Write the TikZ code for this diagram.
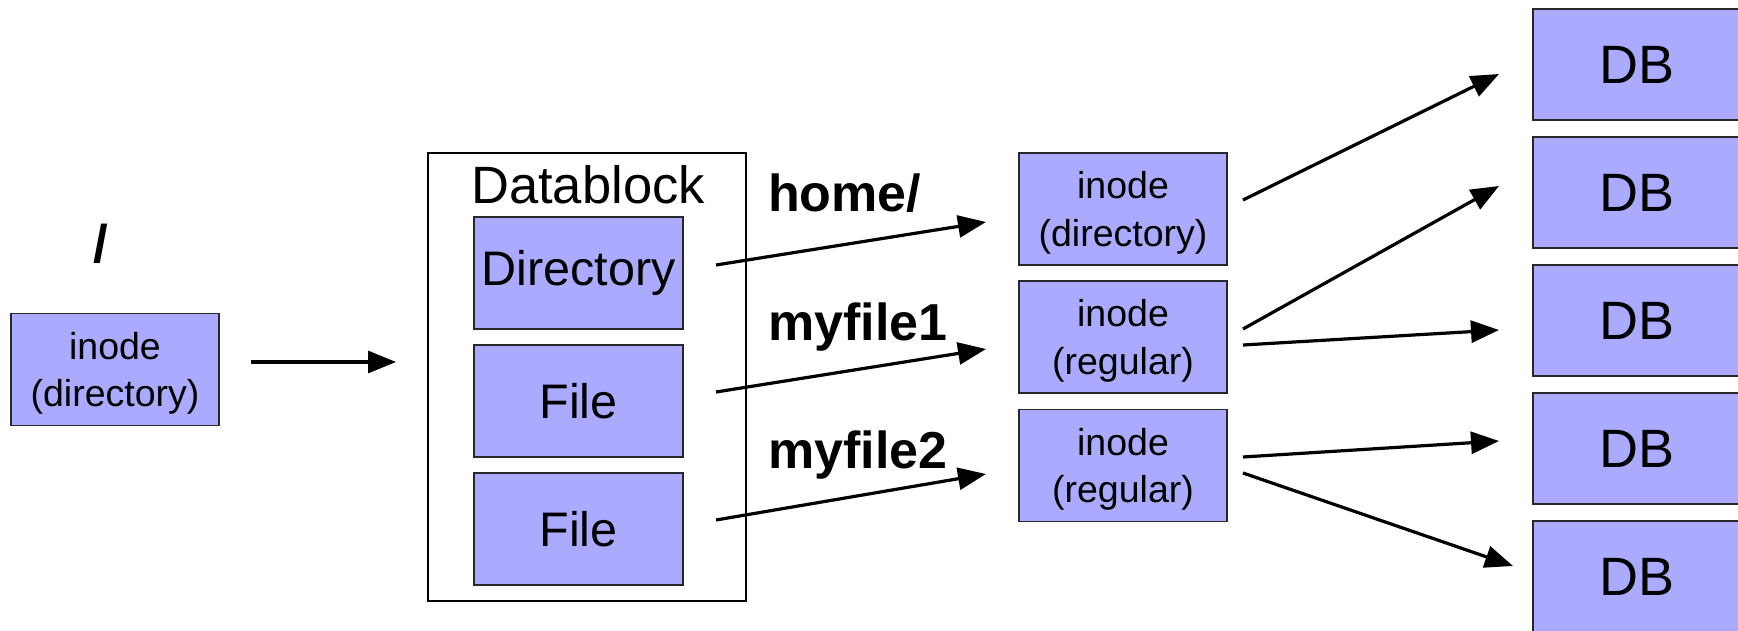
\documentclass[tikz,border=0pt]{standalone}
\usepackage{fontspec}
\setmainfont{Liberation Sans}
\usetikzlibrary{arrows.meta}
\definecolor{boxfill}{RGB}{170,170,255}
\definecolor{boxline}{RGB}{40,40,40}
\begin{document}
\begin{tikzpicture}[x=1pt,y=-1pt,
  blk/.style={draw=boxline, line width=1.5pt, fill=boxfill, inner sep=0pt, outer sep=0pt},
  inodebox/.style={blk, minimum width=208pt, minimum height=112pt, align=center,
    font=\fontsize{37.5}{47.5}\selectfont, text depth=0pt},
  entry/.style={blk, minimum width=209pt, minimum height=112pt,
    font=\fontsize{48.5}{58}\selectfont},
  dbbox/.style={blk, minimum width=208pt, minimum height=111pt,
    font=\fontsize{54}{64}\selectfont},
  frame/.style={draw=black, line width=1.5pt, inner sep=0pt, minimum width=318pt, minimum height=448pt},
  entryname/.style={font=\bfseries\fontsize{52}{62}\selectfont, anchor=base west, inner sep=0pt},
  link/.style={line width=3.2pt, -{Triangle[length=28pt,width=22pt]}}
]
\useasboundingbox (0,0) rectangle (1738,631);

% root directory inode
\node[font=\bfseries\fontsize{53}{62}\selectfont, anchor=base, inner sep=0pt] (slash) at (101,262) {/};
\node[inodebox] (root) at (115,369.5) {inode\\(directory)};

% data block of the root directory
\node[frame] (datablock) at (587,377) {};
\node[font=\fontsize{52.5}{62}\selectfont, anchor=base, inner sep=0pt] (dbtitle) at (588,204) {Datablock};
\node[entry] (dir) at (578.5,273) {Directory};
\node[entry] (file1) at (578.5,401) {File};
\node[entry] (file2) at (578.5,529) {File};

% inodes of the entries
\node[inodebox] (in1) at (1123,209) {inode\\(directory)};
\node[inodebox] (in2) at (1123,337) {inode\\(regular)};
\node[inodebox] (in3) at (1123,465.5) {inode\\(regular)};

% data blocks
\node[dbbox] (db1) at (1637,64.5) {DB};
\node[dbbox] (db2) at (1637,192.5) {DB};
\node[dbbox] (db3) at (1637,320.5) {DB};
\node[dbbox] (db4) at (1637,448.5) {DB};
\node[dbbox] (db5) at (1637,576.5) {DB};

% entry names
\node[entryname] (nhome) at (768,212) {home/};
\node[entryname] (nf1) at (768,340) {myfile1};
\node[entryname] (nf2) at (768,468) {myfile2};

% connector end points
\coordinate (r-out) at (251,362);
\coordinate (d-in) at (396,362);
\coordinate (e1-out) at (716,265);
\coordinate (e1-in) at (986,222);
\coordinate (e2-out) at (716,392);
\coordinate (e2-in) at (986,349);
\coordinate (e3-out) at (716,520);
\coordinate (e3-in) at (986,474);
\coordinate (i1-out) at (1243,200);
\coordinate (b1-in) at (1499,74);
\coordinate (i2-outa) at (1243,329);
\coordinate (b2-in) at (1499,186);
\coordinate (i2-outb) at (1243,345);
\coordinate (b3-in) at (1499,330);
\coordinate (i3-outa) at (1243,457);
\coordinate (b4-in) at (1499,441);
\coordinate (i3-outb) at (1243,473);
\coordinate (b5-in) at (1513,566);

\draw[link] (r-out) -- (d-in);
\draw[link] (e1-out) -- (e1-in);
\draw[link] (e2-out) -- (e2-in);
\draw[link] (e3-out) -- (e3-in);
\draw[link] (i1-out) -- (b1-in);
\draw[link] (i2-outa) -- (b2-in);
\draw[link] (i2-outb) -- (b3-in);
\draw[link] (i3-outa) -- (b4-in);
\draw[link] (i3-outb) -- (b5-in);
\end{tikzpicture}
\end{document}
